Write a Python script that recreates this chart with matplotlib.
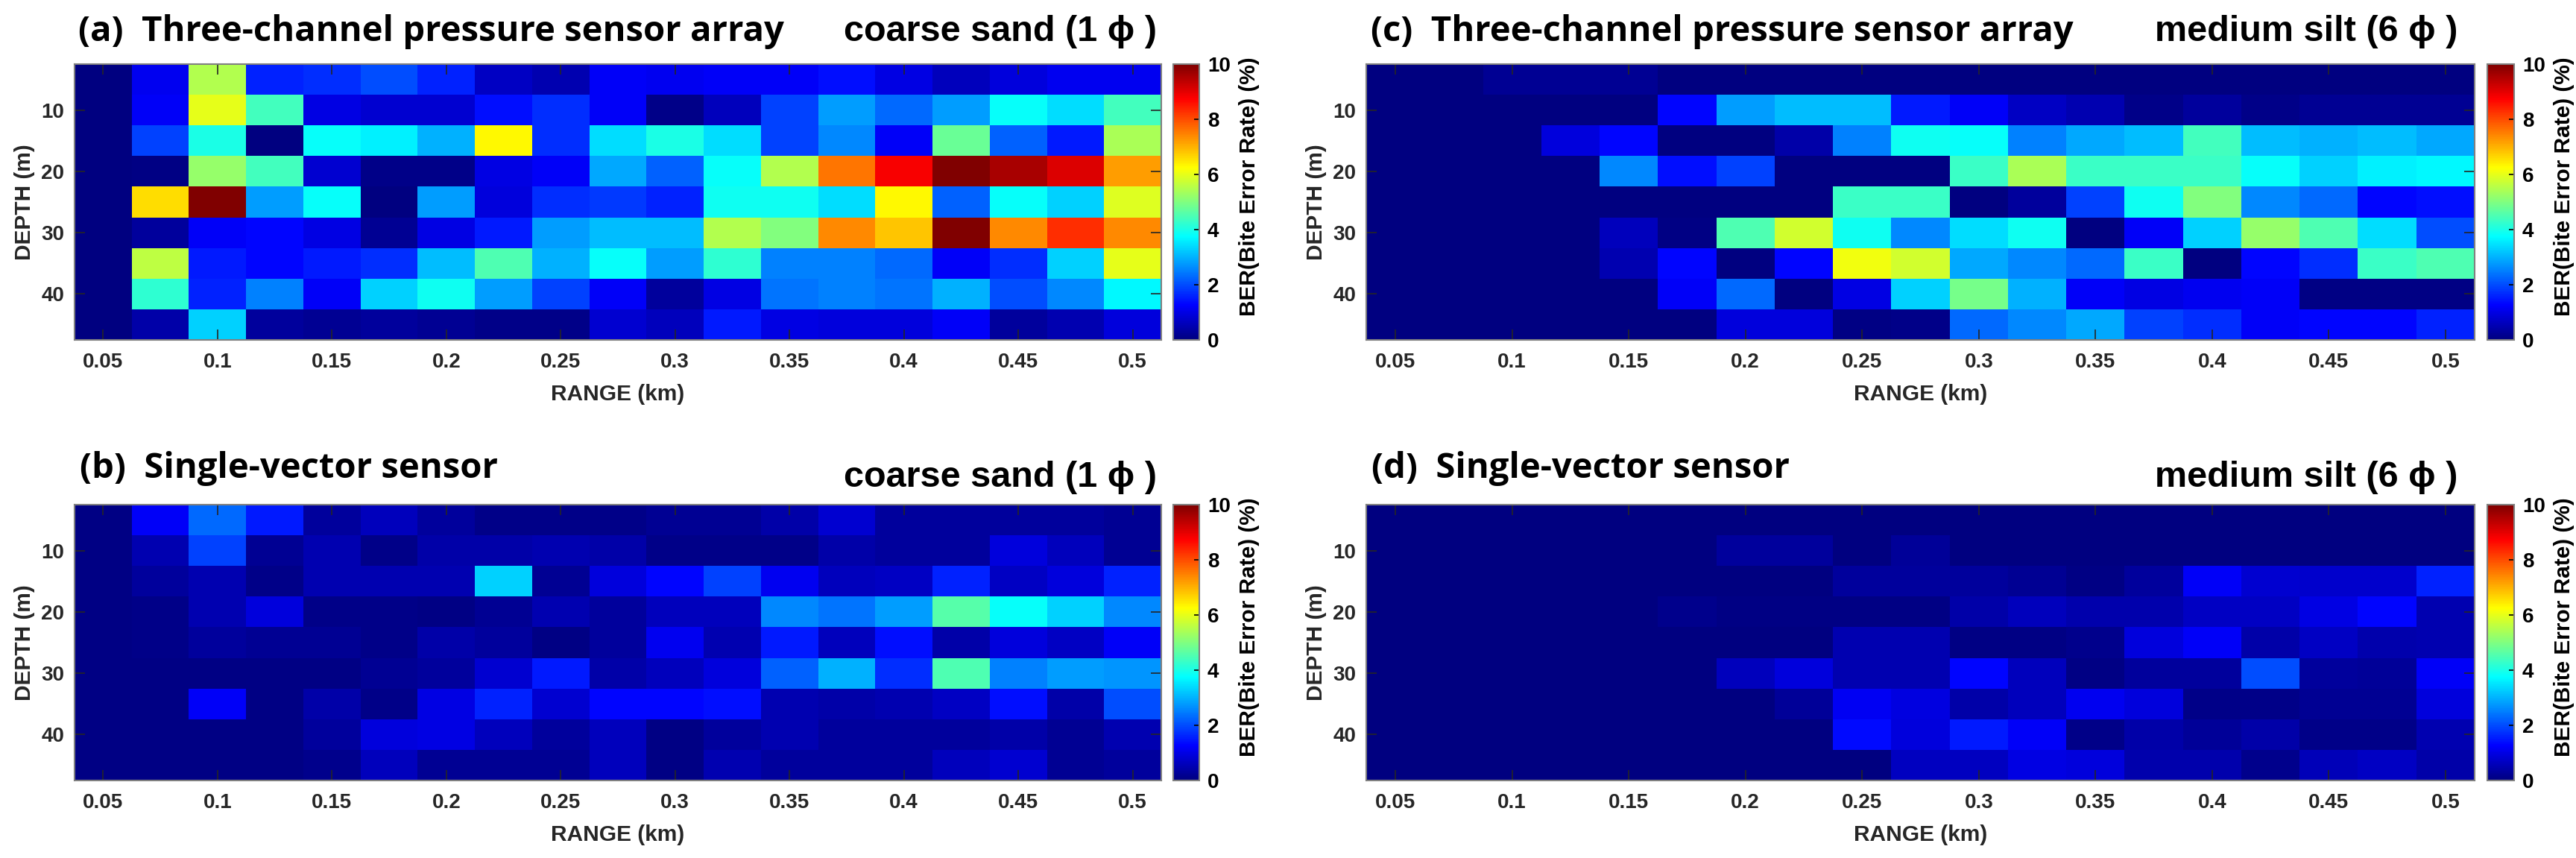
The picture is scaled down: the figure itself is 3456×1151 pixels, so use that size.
import numpy as np
import matplotlib
matplotlib.use("Agg")
import matplotlib.pyplot as plt
from matplotlib.colors import LinearSegmentedColormap

# ---- data (BER %, rows = depth, cols = range) ----
range_km = [0.05, 0.075, 0.1, 0.125, 0.15, 0.175, 0.2, 0.225, 0.25, 0.275,
            0.3, 0.325, 0.35, 0.375, 0.4, 0.425, 0.45, 0.475, 0.5]
depth_m = [5, 10, 15, 20, 25, 30, 35, 40, 45]

xtick_vals = [0.05, 0.1, 0.15, 0.2, 0.25, 0.3, 0.35, 0.4, 0.45, 0.5]
xtick_labels = ["0.05", "0.1", "0.15", "0.2", "0.25", "0.3", "0.35", "0.4", "0.45", "0.5"]
ytick_vals = [10, 20, 30, 40]
cbar_ticks = [0, 2, 4, 6, 8, 10]

# (a) three-channel pressure array, coarse sand
ber_a = [
    [0, 1.1, 5.5, 1.6, 1.7, 2.0, 1.6, 0.7, 0.5, 1.2, 1.1, 1.2, 1.2, 1.4, 1.0, 0.6, 0.9, 1.1, 1.1],
    [0, 1.2, 6.0, 4.4, 1.0, 0.8, 0.8, 1.4, 1.7, 1.2, 0.1, 0.6, 1.9, 2.8, 2.3, 2.8, 3.8, 3.4, 4.4],
    [0, 1.9, 4.0, 0.0, 3.8, 3.6, 3.0, 6.3, 1.7, 3.4, 4.0, 3.4, 1.9, 2.6, 1.2, 4.8, 2.2, 1.5, 5.4],
    [0, 0.05, 5.2, 4.4, 0.8, 0.1, 0.1, 1.0, 1.2, 2.9, 2.2, 3.8, 5.5, 7.6, 8.8, 10, 9.6, 9.1, 7.2],
    [0, 6.6, 10, 2.8, 3.8, 0.0, 2.8, 0.9, 1.7, 1.8, 1.6, 3.9, 3.9, 3.4, 6.3, 2.2, 3.8, 3.3, 5.9],
    [0, 0.3, 1.2, 1.3, 1.0, 0.2, 1.0, 1.5, 2.8, 3.1, 3.1, 5.5, 5.0, 7.4, 6.8, 10, 7.4, 8.3, 7.4],
    [0, 5.6, 1.5, 1.3, 1.5, 1.7, 3.1, 4.5, 3.0, 3.8, 2.8, 4.2, 2.5, 2.5, 2.3, 1.2, 1.7, 3.3, 6.0],
    [0, 4.2, 1.6, 2.5, 1.2, 3.3, 3.9, 2.8, 1.9, 1.2, 0.3, 1.0, 2.4, 2.5, 2.4, 3.0, 2.0, 2.6, 3.7],
    [0, 0.4, 3.3, 0.3, 0.2, 0.3, 0.2, 0.1, 0.1, 0.8, 0.6, 1.5, 1.0, 0.9, 0.9, 1.2, 0.3, 0.5, 0.9],
]

# (b) single-vector sensor, coarse sand
ber_b = [
    [0.05, 1.2, 2.3, 1.5, 0.3, 0.6, 0.3, 0.1, 0.1, 0.1, 0.2, 0.2, 0.4, 0.8, 0.3, 0.3, 0.3, 0.3, 0.2],
    [0.05, 0.5, 1.9, 0.2, 0.5, 0.1, 0.4, 0.4, 0.5, 0.4, 0.1, 0.1, 0.1, 0.4, 0.3, 0.3, 0.9, 0.6, 0.2],
    [0.05, 0.3, 0.5, 0.1, 0.5, 0.5, 0.5, 3.3, 0.2, 0.9, 1.3, 1.9, 1.1, 0.6, 0.7, 1.6, 0.7, 0.9, 1.6],
    [0.05, 0.1, 0.5, 0.9, 0.1, 0.1, 0.05, 0.2, 0.5, 0.3, 0.6, 0.6, 2.6, 2.4, 2.8, 4.6, 3.8, 3.3, 2.6],
    [0.05, 0.1, 0.3, 0.2, 0.2, 0.1, 0.4, 0.3, 0.05, 0.3, 1.1, 0.5, 1.5, 0.6, 1.4, 0.4, 0.9, 0.7, 1.2],
    [0.05, 0.05, 0.05, 0.05, 0.05, 0.2, 0.3, 0.8, 1.5, 0.4, 0.6, 0.9, 2.2, 3.0, 1.7, 4.5, 2.5, 2.8, 2.7],
    [0.05, 0.05, 1.2, 0.05, 0.4, 0.1, 1.0, 1.6, 0.8, 1.3, 1.3, 1.4, 0.5, 0.4, 0.5, 0.7, 1.4, 0.4, 2.0],
    [0.05, 0.05, 0.05, 0.05, 0.3, 0.9, 1.0, 0.6, 0.3, 0.6, 0.05, 0.3, 0.5, 0.3, 0.3, 0.3, 0.4, 0.2, 0.5],
    [0.05, 0.05, 0.05, 0.05, 0.15, 0.6, 0.2, 0.2, 0.2, 0.6, 0.05, 0.5, 0.3, 0.3, 0.3, 0.6, 0.8, 0.2, 0.3],
]

# (c) three-channel pressure array, medium silt
ber_c = [
    [0, 0, 0.2, 0.2, 0.2, 0, 0, 0, 0, 0, 0, 0, 0, 0, 0, 0, 0, 0, 0],
    [0, 0, 0, 0, 0, 1.3, 2.8, 3.1, 3.1, 1.5, 1.2, 0.7, 0.5, 0.1, 0.3, 0.1, 0.2, 0.2, 0.2],
    [0, 0, 0, 0.9, 1.3, 0, 0, 0.4, 2.5, 3.9, 3.8, 2.5, 2.9, 3.1, 4.4, 3.1, 3.0, 3.1, 2.9],
    [0, 0, 0, 0, 2.6, 1.4, 1.9, 0, 0, 0, 4.3, 5.4, 4.3, 4.3, 4.3, 3.8, 3.3, 3.6, 3.7],
    [0, 0, 0, 0, 0, 0, 0, 0, 4.3, 4.3, 0, 0.3, 1.9, 3.9, 5.0, 2.6, 2.3, 1.3, 1.4],
    [0, 0, 0, 0, 0.6, 0.05, 4.5, 5.8, 3.9, 2.6, 3.4, 3.9, 0, 1.2, 3.3, 5.2, 4.5, 3.4, 2.0],
    [0, 0, 0, 0, 0.5, 1.3, 0, 1.3, 6.1, 5.8, 2.9, 2.6, 2.3, 4.3, 0, 1.3, 1.7, 4.3, 4.5],
    [0, 0, 0, 0, 0, 1.2, 2.3, 0, 1.0, 3.3, 4.9, 3.0, 1.2, 1.0, 1.1, 1.2, 0.05, 0.05, 0.05],
    [0, 0, 0, 0, 0, 0, 0.9, 0.9, 0.05, 0.1, 2.3, 2.6, 2.9, 1.9, 1.7, 1.2, 1.3, 1.3, 1.6],
]

# (d) single-vector sensor, medium silt
ber_d = [
    [0, 0, 0, 0, 0, 0, 0, 0, 0, 0, 0, 0, 0, 0, 0, 0, 0, 0, 0],
    [0, 0, 0, 0, 0, 0, 0.3, 0.3, 0, 0.25, 0, 0, 0, 0, 0, 0, 0, 0, 0],
    [0, 0, 0, 0, 0, 0, 0, 0, 0.3, 0.3, 0.3, 0.2, 0.05, 0.3, 1.2, 0.8, 0.75, 0.75, 1.6],
    [0, 0, 0, 0, 0, 0.15, 0.05, 0.05, 0.05, 0.05, 0.4, 0.6, 0.45, 0.45, 0.7, 0.7, 1.0, 1.3, 0.5],
    [0, 0, 0, 0, 0, 0, 0, 0, 0.5, 0.5, 0.05, 0.05, 0.15, 0.9, 1.2, 0.4, 0.7, 0.45, 0.5],
    [0, 0, 0, 0, 0, 0, 0.6, 0.9, 0.5, 0.5, 1.3, 0.6, 0.05, 0.3, 0.3, 2.0, 0.3, 0.25, 1.2],
    [0, 0, 0, 0, 0, 0, 0, 0.25, 1.15, 0.95, 0.4, 0.6, 1.1, 0.9, 0.1, 0.1, 0.2, 0.2, 0.9],
    [0, 0, 0, 0, 0, 0, 0, 0, 1.35, 0.9, 1.5, 1.2, 0.1, 0.4, 0.25, 0.4, 0.1, 0.1, 0.5],
    [0, 0, 0, 0, 0, 0, 0, 0, 0, 0.65, 0.65, 1.0, 0.9, 0.45, 0.45, 0.15, 0.55, 0.7, 0.4],
]

titles = ["(a)  Three-channel pressure sensor array", "(b)  Single-vector sensor",
          "(c)  Three-channel pressure sensor array", "(d)  Single-vector sensor"]
sediments = ["coarse sand (1 \u03d5 )", "coarse sand (1 \u03d5 )",
             "medium silt (6 \u03d5 )", "medium silt (6 \u03d5 )"]

plt.rcParams['font.family'] = ['Liberation Sans', 'DejaVu Sans']
plt.rcParams['font.weight'] = 'bold'
plt.rcParams['axes.labelweight'] = 'bold'

# MATLAB-style jet
matlab_jet = LinearSegmentedColormap.from_list('matlab_jet', [
    (0.0, (0, 0, 0.5)), (0.125, (0, 0, 1)), (0.375, (0, 1, 1)),
    (0.625, (1, 1, 0)), (0.875, (1, 0, 0)), (1.0, (0.5, 0, 0))], N=256)

W, H = 3456, 1151
fig = plt.figure(figsize=(W / 100, H / 100), dpi=100)


def rect(l, t, r, b):
    return [l / W, 1 - b / H, (r - l) / W, (b - t) / H]


# pixel layout: axes box, colorbar x-span, title baselines
layout = [
    dict(ax=(100, 86, 1558, 456), cb=(1574, 1609), tx=105, tb=55, sx=1552, sb=55),
    dict(ax=(100, 677, 1558, 1047), cb=(1574, 1609), tx=107, tb=641, sx=1552, sb=653),
    dict(ax=(1833, 86, 3320, 456), cb=(3337, 3373), tx=1839, tb=55, sx=3297, sb=55),
    dict(ax=(1833, 677, 3320, 1047), cb=(3337, 3373), tx=1840, tb=641, sx=3297, sb=653),
]
data = [ber_a, ber_b, ber_c, ber_d]
grey = '#262626'

for vals, lay, ttl, sed in zip(data, layout, titles, sediments):
    l, t, r, b = lay['ax']
    ax = fig.add_axes(rect(l, t, r, b))
    mesh = ax.pcolormesh(range_km, depth_m, np.array(vals), cmap=matlab_jet,
                         vmin=0, vmax=10, shading='nearest')
    dx = range_km[1] - range_km[0]
    dy = depth_m[1] - depth_m[0]
    ax.set_xlim(range_km[0] - dx / 2, range_km[-1] + dx / 2)
    ax.set_ylim(depth_m[-1] + dy / 2, depth_m[0] - dy / 2)
    ax.set_xticks(xtick_vals)
    ax.set_xticklabels(xtick_labels, fontweight='bold')
    ax.set_yticks(ytick_vals)
    ax.set_yticklabels([str(v) for v in ytick_vals], fontweight='bold')
    ax.tick_params(direction='in', length=10, width=1.2, top=True, right=True,
                   labelsize=20, colors=grey)
    ax.tick_params(axis='x', pad=12)
    ax.tick_params(axis='y', pad=10)
    for s in ax.spines.values():
        s.set_color('#808080')
        s.set_linewidth(1.5)

    ax.set_xlabel('RANGE (km)', fontsize=21.5, color=grey, fontweight='bold')
    ax.xaxis.set_label_coords(0.5, -73 / (b - t))
    ax.xaxis.label.set_va('center')
    ax.set_ylabel('DEPTH (m)', fontsize=21.5, color=grey, fontweight='bold')
    ax.yaxis.set_label_coords(-67 / (r - l), 0.5)
    ax.yaxis.label.set_va('center')

    cl, cr = lay['cb']
    cax = fig.add_axes(rect(cl, t, cr, b))
    cb = fig.colorbar(mesh, cax=cax, ticks=cbar_ticks)
    cb.outline.set_edgecolor('#808080')
    cb.outline.set_linewidth(1.5)
    cax.tick_params(labelsize=20, direction='in', length=5, width=1.2, pad=8,
                    colors='black')
    for lbl in cax.get_yticklabels():
        lbl.set_fontweight('bold')
    cb.set_label('BER(Bite Error Rate) (%)', fontsize=21.5, fontweight='bold')
    cax.yaxis.set_label_coords((cr - cl + 67) / (cr - cl), 0.555)
    cax.yaxis.label.set_va('center')

    fig.text(lay['tx'] / W, 1 - lay['tb'] / H, ttl, ha='left', va='baseline',
             fontsize=34, fontweight='bold', family=['Open Sans', 'DejaVu Sans'])
    fig.text(lay['sx'] / W, 1 - lay['sb'] / H, sed, ha='right', va='baseline',
             fontsize=35, fontweight='bold')

fig.savefig('out.png', dpi=100)
